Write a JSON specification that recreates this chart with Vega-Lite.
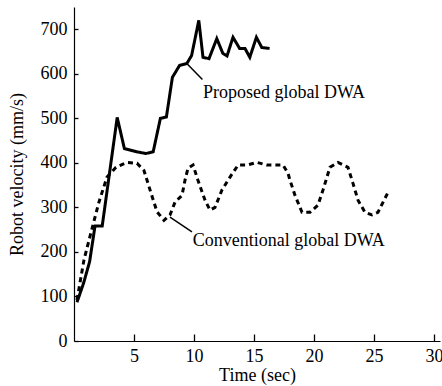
{
  "$schema": "https://vega.github.io/schema/vega-lite/v6.json",
  "width": 366,
  "height": 334,
  "autosize": "none",
  "padding": {"left": 74, "top": 7, "right": 2, "bottom": 45},
  "background": "white",
  "config": {
    "view": {"stroke": null},
    "font": "Liberation Serif",
    "axis": {"domainColor": "black", "labelColor": "black", "titleColor": "black", "labelFont": "Liberation Serif", "titleFont": "Liberation Serif", "labelFontSize": 18, "titleFontSize": 18, "titleFontWeight": "normal", "domainWidth": 1.2, "tickColor": "black", "tickWidth": 1.3, "tickOpacity": 1}
  },
  "datasets": {
    "series": [
      {"s": "Proposed", "t": 0.25, "v": 87},
      {"s": "Proposed", "t": 0.8, "v": 130},
      {"s": "Proposed", "t": 1.3, "v": 178},
      {"s": "Proposed", "t": 1.75, "v": 258},
      {"s": "Proposed", "t": 2.35, "v": 258},
      {"s": "Proposed", "t": 3.6, "v": 502},
      {"s": "Proposed", "t": 4.2, "v": 432},
      {"s": "Proposed", "t": 5.2, "v": 425},
      {"s": "Proposed", "t": 6.0, "v": 421},
      {"s": "Proposed", "t": 6.6, "v": 425},
      {"s": "Proposed", "t": 7.2, "v": 500},
      {"s": "Proposed", "t": 7.7, "v": 503},
      {"s": "Proposed", "t": 8.2, "v": 592},
      {"s": "Proposed", "t": 8.8, "v": 619},
      {"s": "Proposed", "t": 9.4, "v": 623},
      {"s": "Proposed", "t": 9.8, "v": 641},
      {"s": "Proposed", "t": 10.4, "v": 720},
      {"s": "Proposed", "t": 10.75, "v": 637},
      {"s": "Proposed", "t": 11.25, "v": 634},
      {"s": "Proposed", "t": 11.9, "v": 679},
      {"s": "Proposed", "t": 12.4, "v": 646},
      {"s": "Proposed", "t": 12.75, "v": 640},
      {"s": "Proposed", "t": 13.25, "v": 682},
      {"s": "Proposed", "t": 13.8, "v": 657},
      {"s": "Proposed", "t": 14.25, "v": 657},
      {"s": "Proposed", "t": 14.65, "v": 637},
      {"s": "Proposed", "t": 15.2, "v": 682},
      {"s": "Proposed", "t": 15.65, "v": 659},
      {"s": "Proposed", "t": 16.3, "v": 657},
      {"s": "Conventional", "t": 0.25, "v": 92},
      {"s": "Conventional", "t": 0.83, "v": 182},
      {"s": "Conventional", "t": 1.42, "v": 244},
      {"s": "Conventional", "t": 2.08, "v": 312},
      {"s": "Conventional", "t": 2.75, "v": 368},
      {"s": "Conventional", "t": 3.5, "v": 390},
      {"s": "Conventional", "t": 4.42, "v": 401},
      {"s": "Conventional", "t": 5.25, "v": 399},
      {"s": "Conventional", "t": 5.83, "v": 383},
      {"s": "Conventional", "t": 6.42, "v": 332},
      {"s": "Conventional", "t": 6.92, "v": 290},
      {"s": "Conventional", "t": 7.5, "v": 271},
      {"s": "Conventional", "t": 8.0, "v": 283},
      {"s": "Conventional", "t": 8.42, "v": 312},
      {"s": "Conventional", "t": 9.0, "v": 327},
      {"s": "Conventional", "t": 9.25, "v": 361},
      {"s": "Conventional", "t": 9.5, "v": 388},
      {"s": "Conventional", "t": 9.92, "v": 395},
      {"s": "Conventional", "t": 10.33, "v": 361},
      {"s": "Conventional", "t": 10.92, "v": 316},
      {"s": "Conventional", "t": 11.33, "v": 294},
      {"s": "Conventional", "t": 11.75, "v": 300},
      {"s": "Conventional", "t": 12.33, "v": 339},
      {"s": "Conventional", "t": 13.0, "v": 368},
      {"s": "Conventional", "t": 13.67, "v": 395},
      {"s": "Conventional", "t": 14.42, "v": 395},
      {"s": "Conventional", "t": 15.25, "v": 401},
      {"s": "Conventional", "t": 16.08, "v": 395},
      {"s": "Conventional", "t": 17.42, "v": 395},
      {"s": "Conventional", "t": 17.83, "v": 377},
      {"s": "Conventional", "t": 18.0, "v": 361},
      {"s": "Conventional", "t": 18.42, "v": 327},
      {"s": "Conventional", "t": 19.0, "v": 289},
      {"s": "Conventional", "t": 19.67, "v": 289},
      {"s": "Conventional", "t": 20.33, "v": 305},
      {"s": "Conventional", "t": 20.75, "v": 339},
      {"s": "Conventional", "t": 21.33, "v": 390},
      {"s": "Conventional", "t": 22.0, "v": 401},
      {"s": "Conventional", "t": 22.83, "v": 390},
      {"s": "Conventional", "t": 23.25, "v": 354},
      {"s": "Conventional", "t": 23.67, "v": 316},
      {"s": "Conventional", "t": 24.25, "v": 289},
      {"s": "Conventional", "t": 24.83, "v": 283},
      {"s": "Conventional", "t": 25.33, "v": 289},
      {"s": "Conventional", "t": 26.17, "v": 334}
    ],
    "labels": [
      {"label": "Proposed global DWA", "t": 10.75, "v": 556},
      {"label": "Conventional global DWA", "t": 9.9, "v": 224}
    ],
    "leaders": [
      {"t": 9.4, "v": 623, "t2": 10.7, "v2": 587},
      {"t": 8.0, "v": 278, "t2": 9.83, "v2": 245}
    ]
  },
  "layer": [
    {
      "data": {"name": "series"},
      "mark": {"type": "line", "color": "black", "strokeWidth": 3, "strokeJoin": "miter"},
      "encoding": {
        "x": {"field": "t", "type": "quantitative", "scale": {"domain": [0, 30.5], "nice": false}, "title": "Time (sec)",
          "axis": {"values": [5, 10, 15, 20, 25, 30], "ticks": true, "tickSize": -7, "grid": false, "labelPadding": 13, "titlePadding": 1, "labelFlush": false}},
        "y": {"field": "v", "type": "quantitative", "scale": {"domain": [0, 750], "nice": false}, "title": "Robot velocity (mm/s)",
          "axis": {"values": [0,100,200,300,400,500,600,700], "ticks": true, "tickSize": -4, "grid": false, "labelPadding": 11, "titlePadding": 14}},
        "detail": {"field": "s"},
        "strokeDash": {"field": "s", "type": "nominal", "scale": {"domain": ["Proposed", "Conventional"], "range": [[1, 0], [5, 4]]}, "legend": null}
      }
    },
    {
      "data": {"name": "leaders"},
      "mark": {"type": "rule", "color": "black", "strokeWidth": 1.5},
      "encoding": {
        "x": {"field": "t", "type": "quantitative"},
        "y": {"field": "v", "type": "quantitative"},
        "x2": {"field": "t2"},
        "y2": {"field": "v2"}
      }
    },
    {
      "data": {"name": "labels"},
      "mark": {"type": "text", "align": "left", "baseline": "middle", "font": "Liberation Serif", "fontSize": 18, "color": "black"},
      "encoding": {
        "x": {"field": "t", "type": "quantitative"},
        "y": {"field": "v", "type": "quantitative"},
        "text": {"field": "label"}
      }
    }
  ]
}
